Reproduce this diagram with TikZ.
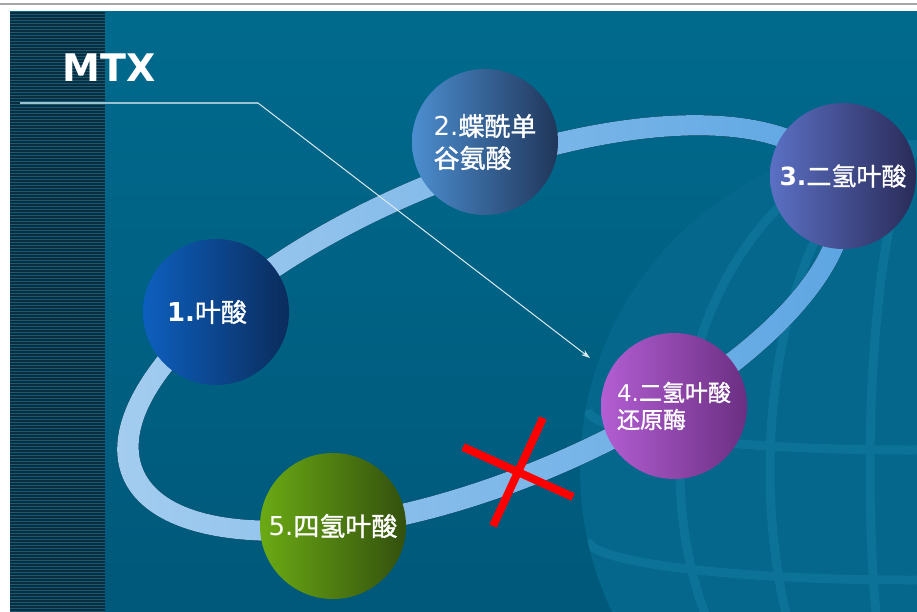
\documentclass[tikz,border=0pt]{standalone}
\usepackage{fontspec}
\setmainfont{DejaVu Sans}
\newfontfamily\cjk[FakeBold=1.2]{Noto Sans CJK SC}
\usetikzlibrary{arrows.meta}

\definecolor{slidetop}{HTML}{006A8D}
\definecolor{slidebottom}{HTML}{00587A}
\definecolor{stripedark}{HTML}{082E40}
\definecolor{stripeline}{HTML}{1A5874}
\definecolor{globefill}{HTML}{04678B}
\definecolor{globeline}{HTML}{0C7297}
\definecolor{ringlight}{HTML}{A6CEF0}
\definecolor{ringdark}{HTML}{5AA4E2}
\definecolor{crossred}{HTML}{FF0000}
\definecolor{folateL}{HTML}{0D5FBE}
\definecolor{folateR}{HTML}{0B2C5C}
\definecolor{pabaL}{HTML}{4C8ED0}
\definecolor{pabaR}{HTML}{20365A}
\definecolor{dhfL}{HTML}{5B70C4}
\definecolor{dhfR}{HTML}{2A2B58}
\definecolor{dhfrL}{HTML}{B35ED3}
\definecolor{dhfrR}{HTML}{6B2F82}
\definecolor{thfL}{HTML}{6BAA14}
\definecolor{thfR}{HTML}{33500E}

\tikzset{
    stage/.style={circle, minimum size=146pt, inner sep=0pt, text=white,
        align=left, font=\fontsize{26}{32}\selectfont},
    pointer/.style={draw=white!85!slidetop, line width=1pt,
        -{Stealth[length=9pt,width=6pt]}},
    crossbar/.style={draw=crossred, line width=8pt},
}

\begin{document}
\begin{tikzpicture}[x=1pt,y=-1pt]
        \useasboundingbox (0,0) rectangle (917,612);

        % Draw the page and the slide background
        \fill[white] (0,0) rectangle (917,612);
        \draw[gray!70, line width=2pt] (0,4) -- (917,4);
        \shade[top color=slidetop, bottom color=slidebottom] (10,12) rectangle (917,612);

        % Draw the striped band on the left
        \fill[stripedark] (10,12) rectangle (105,612);
        \foreach \y in {14,17,...,611}
            \draw[stripeline, line width=0.8pt] (10,\y) -- (105,\y);

        % Draw the globe in the corner
        \begin{scope}
            \clip (10,12) rectangle (917,612);
            \fill[globefill] (910,470) circle[radius=330];
            \clip (910,470) circle[radius=330];
            \foreach \r in {60,160,250}
                \draw[globeline, line width=9pt] (930,470) ellipse[x radius=\r, y radius=330];
            \foreach \y/\r in {410/322,540/322,612/300}
                \draw[globeline, line width=9pt] (910-\r,\y) arc[start angle=180, end angle=0, x radius=\r, y radius=40];
        \end{scope}

        % Draw the ring
        \fill[left color=ringlight, right color=ringdark, even odd rule,
            rotate around={22.4:(485,328)}]
            (485,328) ellipse[x radius=392, y radius=164]
            (485,328) ellipse[x radius=370, y radius=142];

        % Draw the five stages
        \node[stage, left color=folateL, right color=folateR]
            (folate) at (216,312) {{\bfseries 1.}{\cjk 叶酸}\hspace*{18pt}};
        \node[stage, left color=pabaL, right color=pabaR]
            (paba) at (485,142) {2.{\cjk 蝶酰单}\\{\cjk 谷氨酸}};
        \node[stage, left color=dhfL, right color=dhfR, font=\fontsize{25}{31}\selectfont]
            (dhf) at (843,176) {{\bfseries 3.}{\cjk 二氢叶酸}};
        \node[stage, left color=dhfrL, right color=dhfrR, font=\fontsize{23}{27}\selectfont]
            (dhfr) at (674,406) {4.{\cjk 二氢叶酸}\\{\cjk 还原酶}};
        \node[stage, left color=thfL, right color=thfR]
            (thf) at (333,526) {5.{\cjk 四氢叶酸}};

        % Draw the inhibitor label and its pointer
        \node[text=white, font=\bfseries\fontsize{38}{38}\selectfont] (mtx) at (109,68) {MTX};
        \coordinate (lineStart) at (20,103);
        \coordinate (bend) at (258,103);
        \coordinate (mtxTip) at (590,358);
        \draw[white!60!slidetop, line width=2pt] (lineStart) -- (bend);
        \draw[pointer] (bend) -- (mtxTip);

        % Draw the cross on the blocked step
        \coordinate (crossA) at (463,447);
        \coordinate (crossB) at (573,497);
        \coordinate (crossC) at (543,418);
        \coordinate (crossD) at (493,526);
        \draw[crossbar] (crossA) -- (crossB);
        \draw[crossbar] (crossC) -- (crossD);
    \end{tikzpicture}
\end{document}
